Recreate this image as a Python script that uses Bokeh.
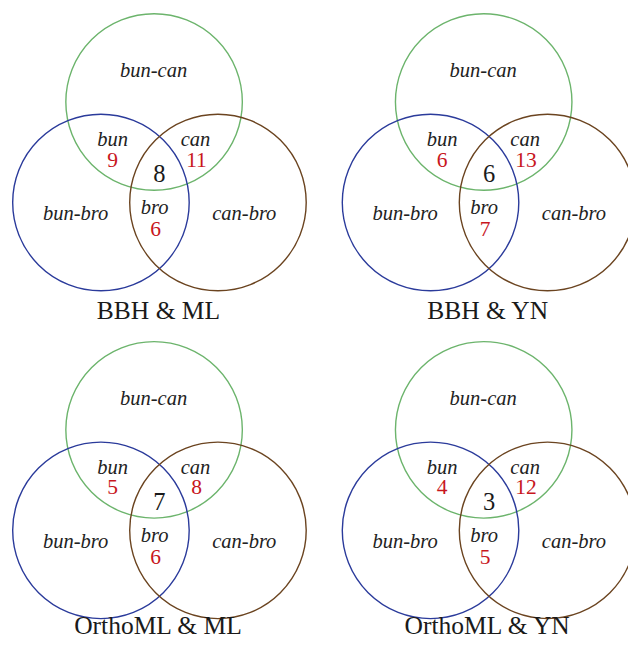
from bokeh.plotting import figure
from bokeh.models import Range1d
from bokeh.core.properties import value
from bokeh.embed import file_html
from bokeh.resources import INLINE

# ---- data ----
panel_titles = ["BBH & ML", "BBH & YN", "OrthoML & ML", "OrthoML & YN"]
bun_counts = [9, 6, 5, 4]
can_counts = [11, 13, 8, 12]
bro_counts = [6, 7, 6, 5]
core_counts = [8, 6, 7, 3]
pair_labels = ["bun-can", "bun-bro", "can-bro"]
single_labels = ["bun", "can", "bro"]

# ---- layout (reference-pixel coordinates, y downward) ----
offsets = [(0, 0), (338, 0), (0, 336), (338, 336)]
circle_pos = [(157.5, 104), (103, 207), (223, 207)]
circle_colors = ["#6cb46c", "#2b3b9b", "#6b4420"]
R = 90.5
pair_pos = [(157, 71), (77, 218), (250, 218)]
single_pos = [(115, 142), (200, 142), (158, 212)]
count_pos = [(115, 163), (201, 163), (159, 234.5)]
core_pos = (163, 177)
title_pos = [(162, 318), (500, 318), (162, 641), (500, 641)]

p = figure(width=628, height=645, output_backend="svg", toolbar_location=None,
           x_range=Range1d(0, 644), y_range=Range1d(661, 0), min_border=0)
p.axis.visible = False
p.grid.visible = False
p.outline_line_color = None
p.background_fill_color = "white"

cx, cy, cc = [], [], []
px, py, pt = [], [], []
sx, sy, st = [], [], []
nx, ny, nt = [], [], []
kx, ky, kt = [], [], []
for i, (ox, oy) in enumerate(offsets):
    for (x, y), c in zip(circle_pos, circle_colors):
        cx.append(ox + x); cy.append(oy + y); cc.append(c)
    for (x, y), t in zip(pair_pos, pair_labels):
        px.append(ox + x); py.append(oy + y); pt.append(t)
    for (x, y), t in zip(single_pos, single_labels):
        sx.append(ox + x); sy.append(oy + y); st.append(t)
    for (x, y), v in zip(count_pos, [bun_counts[i], can_counts[i], bro_counts[i]]):
        nx.append(ox + x); ny.append(oy + y); nt.append(str(v))
    kx.append(ox + core_pos[0]); ky.append(oy + core_pos[1]); kt.append(str(core_counts[i]))

p.circle(x=cx, y=cy, radius=R, fill_color=None, line_color=cc, line_width=1.4)

serif = value("Liberation Serif")
p.text(x=px + sx, y=py + sy, text=pt + st, text_font=serif, text_font_style="italic",
       text_font_size="20.5px", text_align="center", text_baseline="alphabetic",
       text_color="#222222")
p.text(x=nx, y=ny, text=nt, text_font=serif, text_font_size="21.5px",
       text_align="center", text_baseline="alphabetic", text_color="#c8161d")
p.text(x=kx, y=ky, text=kt, text_font=serif, text_font_size="24.5px",
       text_align="center", text_baseline="alphabetic", text_color="#1a1a1a")
p.text(x=[t[0] for t in title_pos], y=[t[1] for t in title_pos], text=panel_titles,
       text_font=serif, text_font_size="25.5px", text_align="center",
       text_baseline="alphabetic", text_color="#1a1a1a")

open("out.html", "w").write(file_html(p, INLINE))
